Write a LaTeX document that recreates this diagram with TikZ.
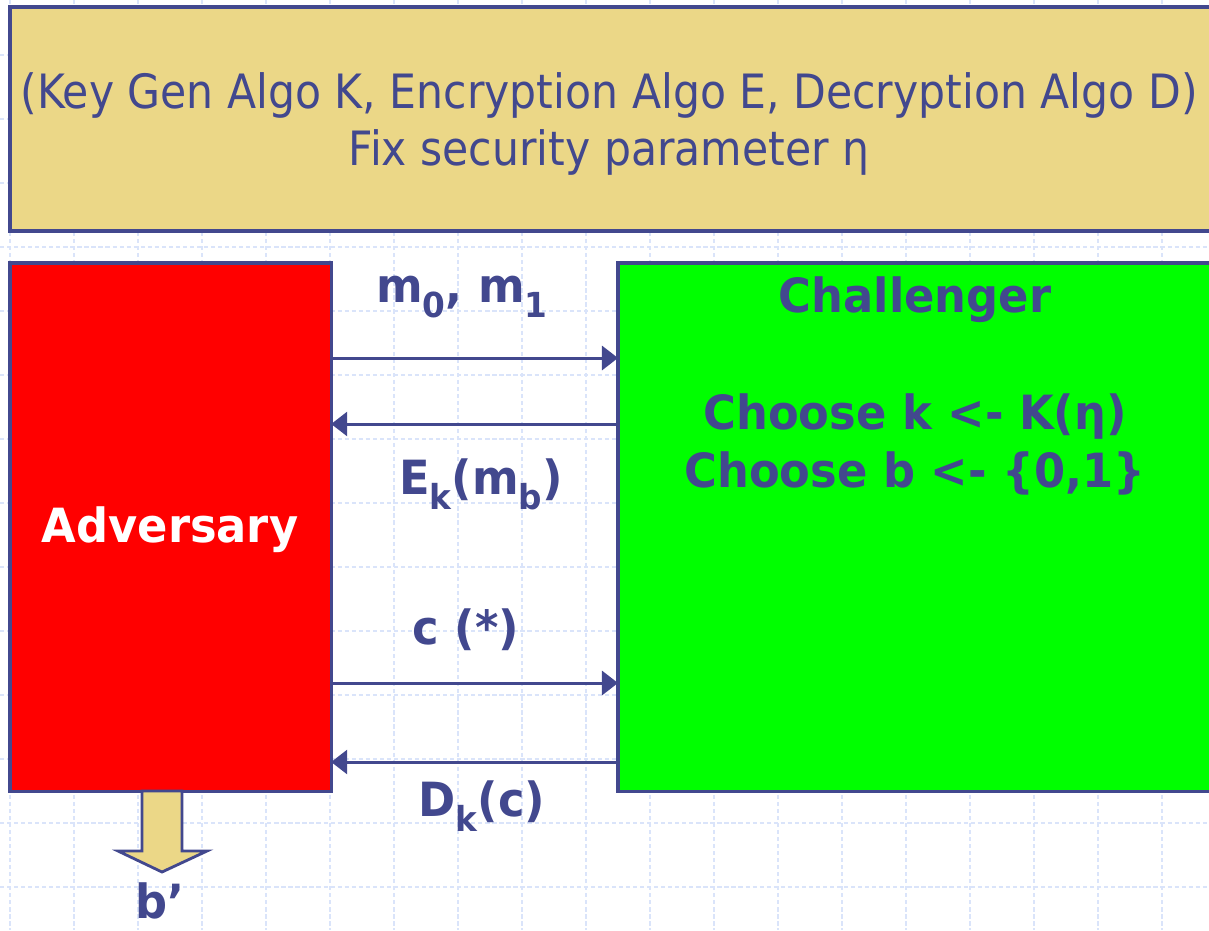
\documentclass[tikz,border=0pt]{standalone}
\usepackage{fontspec}
\setmainfont{DejaVu Sans}
\newfontfamily\titlefont{DejaVu Sans}[FakeStretch=0.9]
\newfontfamily\labfont{DejaVu Sans}[FakeStretch=0.95]
\usetikzlibrary{arrows.meta}
\definecolor{ink}{RGB}{66,72,142}
\definecolor{tanfill}{RGB}{235,215,135}
\definecolor{gridc}{RGB}{218,228,250}
\newcommand\lowsub[1]{\raisebox{-4.2pt}{\fontsize{9.8}{10}\selectfont #1}}
\tikzset{
  panel/.style={draw=ink, line width=0.95pt, anchor=north west, inner sep=0pt, outer sep=0pt},
  lab/.style={text=ink, font=\labfont\bfseries\fontsize{13.4}{16.5}\selectfont, inner sep=0pt},
  flow/.style={draw=ink, line width=0.85pt, -{Triangle[length=0.16cm,width=0.24cm]}},
  gridline/.style={draw=gridc, line width=0.45pt, dash pattern=on 1.2pt off 0.8pt}
}
\begin{document}
\begin{tikzpicture}[x=0.01cm,y=-0.01cm]
\useasboundingbox (0,0) rectangle (1209,930);
\clip (0,0) rectangle (1209,930);
% background grid
\foreach \gx in {10,74,...,1210} {\draw[gridline] (\gx,0) -- (\gx,930);}
\foreach \gy in {-9,55,...,940} {\draw[gridline] (0,\gy) -- (1209,\gy);}
% top box
\node[panel, fill=tanfill, minimum width=12.01cm, minimum height=2.24cm] (top) at (10,7) {};
\node[text=ink, font=\titlefont\fontsize{13.45}{16.4}\selectfont, align=center, inner sep=0pt] (title) at (609,124)
  {(Key Gen Algo K, Encryption Algo E, Decryption Algo D)\\Fix security parameter η};
% adversary and challenger
\node[panel, fill=red, minimum width=3.21cm, minimum height=5.28cm] (adv) at (10,263) {};
\node[panel, fill=green, minimum width=5.95cm, minimum height=5.28cm] (chal) at (618,263) {};
\node[lab, text=white] (advname) at (170,530) {Adversary};
\node[lab] (chalname) at (915,300) {Challenger};
\node[lab, align=center] (choose) at (915,444) {Choose k <- K(η)\\Choose b <- \{0,1\}};
% messages
\coordinate (r1) at (0,358);
\coordinate (r2) at (0,424);
\coordinate (r3) at (0,683);
\coordinate (r4) at (0,762);
\draw[flow] (adv.east |- r1) -- (chal.west |- r1);
\draw[flow] (chal.west |- r2) -- (adv.east |- r2);
\draw[flow] (adv.east |- r3) -- (chal.west |- r3);
\draw[flow] (chal.west |- r4) -- (adv.east |- r4);
\node[lab] (lm) at (462,297) {m\lowsub{0}, m\lowsub{1}};
\node[lab] (le) at (481,484) {E\lowsub{k}(m\lowsub{b})};
\node[lab] (lc) at (466,630) {c (*)};
\node[lab] (ld) at (482,806) {D\lowsub{k}(c)};
% output arrow
\draw[draw=ink, fill=tanfill, line width=0.8pt, line join=miter]
  (142,791) -- (142,851) -- (118,851) -- (162,872) -- (207,851) -- (182,851) -- (182,791) -- cycle;
\node[lab, anchor=base] (bout) at (160,918) {b’};
\end{tikzpicture}
\end{document}
